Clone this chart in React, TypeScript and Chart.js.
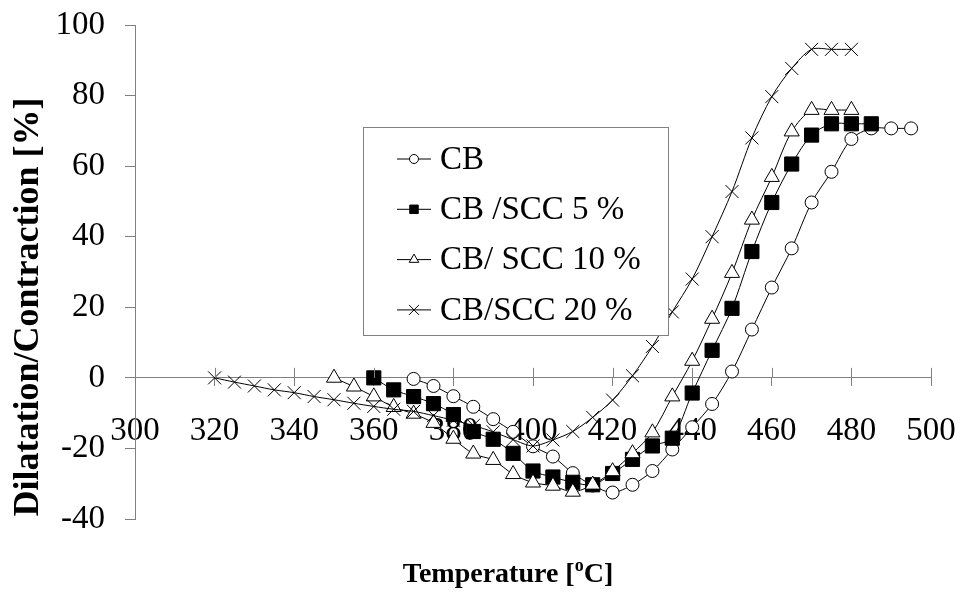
import React, { useEffect, useRef } from 'react';
import { Chart, registerables } from 'chart.js';
import { drawPoint } from 'chart.js/helpers';

Chart.register(...registerables);

const FONT = '"Liberation Serif", "Times New Roman", serif';

// Temperatures (°C) for each series
const tempCB = [370, 375, 380, 385, 390, 395, 400, 405, 410, 415, 420, 425, 430, 435, 440, 445, 450, 455, 460, 465, 470, 475, 480, 485, 490, 495];
const tempSCC5 = [360, 365, 370, 375, 380, 385, 390, 395, 400, 405, 410, 415, 420, 425, 430, 435, 440, 445, 450, 455, 460, 465, 470, 475, 480, 485];
const tempSCC10 = [350, 355, 360, 365, 370, 375, 380, 385, 390, 395, 400, 405, 410, 415, 420, 425, 430, 435, 440, 445, 450, 455, 460, 465, 470, 475, 480];
const tempSCC20 = [320, 325, 330, 335, 340, 345, 350, 355, 360, 365, 370, 375, 380, 385, 390, 395, 400, 405, 410, 415, 420, 425, 430, 435, 440, 445, 450, 455, 460, 465, 470, 475, 480];

// Dilatation/Contraction (%) values
const valCB = [-0.3, -2.3, -5.2, -8.2, -11.7, -15.3, -19.4, -22.3, -27, -30.5, -32.5, -30.3, -26.4, -20.3, -14, -7.4, 1.8, 13.7, 25.6, 36.7, 49.7, 58.4, 67.7, 70.7, 70.7, 70.7];
const valSCC5 = [0, -3.4, -5.3, -7.3, -10.4, -15.2, -17.4, -21.4, -26.4, -28.1, -29.6, -30.3, -27.1, -23.1, -19.3, -17.1, -4.3, 7.8, 19.7, 35.8, 49.7, 60.6, 68.8, 72, 72, 72];
const valSCC10 = [0, -2.5, -5.3, -8.3, -10.2, -12.8, -17.3, -21.5, -23.3, -27.3, -29.7, -30.6, -32.3, -30.3, -26.5, -21.4, -15.5, -5.3, 4.8, 16.7, 29.7, 44.8, 56.9, 69.8, 75.9, 75.9, 75.9];
const valSCC20 = [0, -1.2, -2.3, -3.4, -4.2, -5.3, -6.2, -7.2, -8.1, -8.9, -9.5, -10.7, -12, -13.5, -15.3, -17.5, -19.3, -17.6, -15.2, -11.2, -6.3, 0.6, 8.9, 18.7, 28, 40, 52.8, 68, 79.7, 87.7, 93.1, 93.1, 93.1];

const seriesLabels = ['CB', 'CB /SCC 5 %', 'CB/ SCC 10 %', 'CB/SCC 20 %'];

const xTitleMain = 'Temperature [';
const xTitleSup = 'o';
const xTitleEnd = 'C]';
const yTitle = 'Dilatation/Contraction [%]';

const toPoints = (xs: number[], ys: number[]) => xs.map((x, i) => ({ x, y: ys[i] }));

const markerStyles = [
  { pointStyle: 'circle', radius: 6.5, legendRadius: 4.5, fill: '#ffffff' },
  { pointStyle: 'rect', radius: 10, legendRadius: 6, fill: '#000000' },
  { pointStyle: 'triangle', radius: 8.7, legendRadius: 5.5, fill: '#ffffff' },
  { pointStyle: 'crossRot', radius: 9.2, legendRadius: 7, fill: '#000000' },
];

const overlayPlugin = {
  id: 'overlay',
  afterDraw(chart: any) {
    const ctx = chart.ctx as CanvasRenderingContext2D;
    const xs = chart.scales.x;
    const ys = chart.scales.y;
    const y0 = ys.getPixelForValue(0);
    ctx.save();
    // upper half of the crossing x ticks
    ctx.strokeStyle = '#808080';
    ctx.lineWidth = 1;
    ctx.beginPath();
    xs.ticks.forEach((t: any) => {
      const px = Math.round(xs.getPixelForValue(t.value)) + 0.5;
      ctx.moveTo(px, y0 - 10);
      ctx.lineTo(px, y0);
    });
    ctx.stroke();

    // legend box
    const bx = 363.5, by = 127.5, bw = 305, bh = 208;
    ctx.fillStyle = '#ffffff';
    ctx.fillRect(bx, by, bw, bh);
    ctx.strokeStyle = '#808080';
    ctx.strokeRect(bx, by, bw, bh);
    ctx.font = `33px ${FONT}`;
    ctx.textBaseline = 'middle';
    ctx.textAlign = 'left';
    seriesLabels.forEach((label, i) => {
      const yy = 159 + i * 50.3;
      ctx.strokeStyle = '#000';
      ctx.lineWidth = 1;
      ctx.beginPath();
      ctx.moveTo(397, yy);
      ctx.lineTo(431, yy);
      ctx.stroke();
      const m = markerStyles[i];
      ctx.fillStyle = m.fill;
      ctx.strokeStyle = '#000';
      drawPoint(ctx, { pointStyle: m.pointStyle as any, radius: m.legendRadius, rotation: 0, borderWidth: 1 }, 414, yy);
      ctx.fillStyle = '#000';
      ctx.fillText(label, 440, yy + 1);
    });

    // x title with superscript
    ctx.fillStyle = '#000';
    ctx.textBaseline = 'alphabetic';
    ctx.font = `bold 28px ${FONT}`;
    const w1 = ctx.measureText(xTitleMain).width;
    ctx.font = `bold 18px ${FONT}`;
    const w2 = ctx.measureText(xTitleSup).width;
    ctx.font = `bold 28px ${FONT}`;
    const w3 = ctx.measureText(xTitleEnd).width;
    const total = w1 + w2 + w3;
    let tx = 508 - total / 2;
    const base = 582;
    ctx.fillText(xTitleMain, tx, base);
    tx += w1;
    ctx.font = `bold 18px ${FONT}`;
    ctx.fillText(xTitleSup, tx, base - 11);
    tx += w2;
    ctx.font = `bold 28px ${FONT}`;
    ctx.fillText(xTitleEnd, tx, base);

    // y title
    ctx.translate(29, 307);
    ctx.rotate(-Math.PI / 2);
    ctx.font = `bold 36px ${FONT}`;
    ctx.textAlign = 'center';
    ctx.textBaseline = 'middle';
    ctx.fillText(yTitle, 0, 0);
    ctx.restore();
  },
};

export default function App() {
  const canvasRef = useRef<HTMLCanvasElement | null>(null);

  useEffect(() => {
    if (!canvasRef.current) return;
    const allData = [
      toPoints(tempCB, valCB),
      toPoints(tempSCC5, valSCC5),
      toPoints(tempSCC10, valSCC10),
      toPoints(tempSCC20, valSCC20),
    ];
    const chart = new Chart(canvasRef.current, {
      type: 'line',
      data: {
        datasets: allData.map((d, i) => ({
          label: seriesLabels[i],
          data: d,
          borderColor: '#000',
          borderWidth: 1,
          backgroundColor: markerStyles[i].fill,
          pointStyle: markerStyles[i].pointStyle as any,
          pointRadius: markerStyles[i].radius,
          pointBorderColor: '#000',
          pointBackgroundColor: markerStyles[i].fill,
          pointBorderWidth: 1,
          tension: 0.3,
          fill: false,
          order: 4 - i,
        })),
      },
      options: {
        responsive: true,
        maintainAspectRatio: false,
        animation: false,
        layout: { padding: { top: 25, right: 29, bottom: 75, left: 0 } },
        plugins: { legend: { display: false }, tooltip: { enabled: false } },
        scales: {
          x: {
            type: 'linear',
            position: { y: 0 } as any,
            min: 300,
            max: 500,
            ticks: { stepSize: 20, color: '#000', font: { family: FONT, size: 33 }, padding: 26, maxRotation: 0, autoSkip: false },
            grid: { display: true, drawOnChartArea: false, drawTicks: true, tickLength: 8, color: '#808080' },
            border: { color: '#808080', width: 1 },
            afterFit: (s: any) => { s.paddingLeft = 0; s.paddingRight = 0; s.paddingTop = 0; s.paddingBottom = 0; },
          },
          y: {
            type: 'linear',
            min: -40,
            max: 100,
            ticks: { stepSize: 20, color: '#000', font: { family: FONT, size: 33 }, padding: 20 },
            grid: { display: true, drawOnChartArea: false, drawTicks: true, tickLength: 10, color: '#808080' },
            border: { color: '#808080', width: 1 },
            afterFit: (s: any) => { s.width = 135; s.paddingTop = 0; s.paddingBottom = 0; s.paddingLeft = 0; s.paddingRight = 0; },
          },
        },
      },
      plugins: [overlayPlugin],
    });
    return () => chart.destroy();
  }, []);

  return (
    <div style={{ position: 'absolute', left: 0, top: 0, width: 960, height: 594, background: '#fff' }}>
      <canvas ref={canvasRef} />
    </div>
  );
}
